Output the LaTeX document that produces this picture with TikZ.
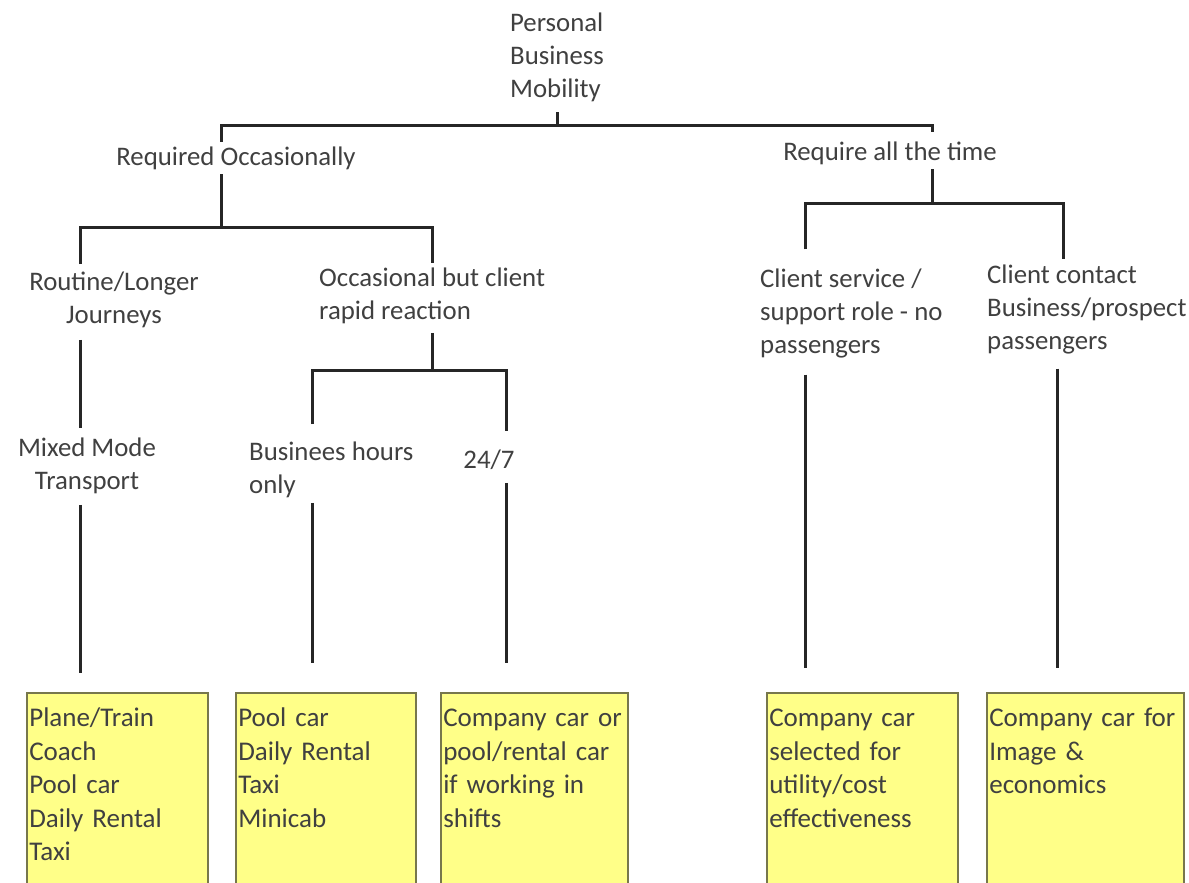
\documentclass[tikz,border=0pt]{standalone}
\usepackage{fontspec}
\setmainfont{Carlito}
\definecolor{boxfill}{HTML}{FFFF88}
\definecolor{boxline}{HTML}{77774C}
\definecolor{txt}{HTML}{404040}
\tikzset{
 lbl/.style={text=txt, font=\fontsize{26.8}{33}\selectfont, inner sep=0pt, outer ysep=5pt},
 choice/.style={draw=boxline, line width=1.6pt, fill=boxfill, anchor=north west, align=left,
   text=txt, font=\fontsize{27}{33.5}\selectfont, inner xsep=2.5pt, inner ysep=6pt,
   text height=28pt, text depth=190pt},
 link/.style={draw=black!85, line width=3pt}
}
\begin{document}
\begin{tikzpicture}[x=1pt,y=-1pt]
 \clip (0,0) rectangle (1189,883);
 \fill[white] (0,0) rectangle (1189,883);

 \node (PBM) [lbl, align=left] at (557,57) {Personal\\Business\\Mobility};
 \node (RO) [lbl] at (236,158) {Required Occasionally};
 \node (RA) [lbl] at (890,153) {Require all the time};
 \node (RL) [lbl, align=center] at (114,300) {Routine/Longer\\Journeys};
 \node (OC) [lbl, align=left, anchor=west] at (319,296) {Occasional but client\\rapid reaction};
 \node (MM) [lbl, align=center] at (87,466) {Mixed Mode\\Transport};
 \node (BH) [lbl, align=left, anchor=west] at (249,470) {Businees hours\\only};
 \node (TS) [lbl] at (489,460) {24/7};
 \node (CS) [lbl, align=left, anchor=west] at (760,313) {Client service /\\support role - no\\passengers};
 \node (CC) [lbl, align=left, anchor=west] at (987,309) {Client contact\\Business/prospect\\passengers};

 % outcome boxes
 \node (BA) [choice, text width=176pt] at (26,692) {Plane/Train\\Coach\\Pool car\\Daily Rental\\Taxi};
 \node (BB) [choice, text width=175pt] at (235,692) {Pool car\\Daily Rental\\Taxi\\Minicab};
 \node (BC) [choice, text width=182pt] at (440,692) {Company car or\\pool/rental car\\if working in\\shifts};
 \node (BD) [choice, text width=186pt] at (766,692) {Company car\\selected for\\utility/cost\\effectiveness};
 \node (BE) [choice, text width=192pt] at (986,692) {Company car for\\Image \&\\economics};

 % junctions and columns
 \coordinate (J1) at (557,125);
 \coordinate (J2) at (221,227);
 \coordinate (J3) at (432,370);
 \coordinate (J4) at (932,203);
 \coordinate (CA) at (80,0);
 \coordinate (CD) at (312,0);
 \coordinate (CE) at (506,0);
 \coordinate (CG) at (805,0);
 \coordinate (CH) at (1063,0);
 \coordinate (CI) at (1057,0);

 \path (PBM.south) edge [link, shorten <=6pt] (J1);
 \draw [link, shorten >=5pt] (RO.north -| J2) |- (J1) -| (RA.north -| J4);
 \path (RO.south -| J2) edge [link] (J2);
 \draw [link, shorten <=3pt] (RL.north -| CA) |- (J2) -| (OC.north -| J3);
 \path (RL.south -| CA) edge [link, shorten <=7pt, shorten >=5pt] (MM.north -| CA);
 \path (MM.south -| CA) edge [link, shorten <=6pt, shorten >=19pt] (BA.north -| CA);
 \path (OC.south -| J3) edge [link, shorten <=4pt] (J3);
 \draw [link, shorten <=13pt, shorten >=14pt] (BH.north -| CD) |- (J3) -| (TS.north -| CE);
 \path (BH.south -| CD) edge [link, shorten >=29pt] (BB.north -| CD);
 \path (TS.south -| CE) edge [link, shorten <=8pt, shorten >=29pt] (BC.north -| CE);
 \path (RA.south -| J4) edge [link] (J4);
 \draw [link, shorten <=14pt] (CS.north -| CG) |- (J4) -| (CC.north -| CH);
 \path (CS.south -| CG) edge [link, shorten <=12pt, shorten >=24pt] (BD.north -| CG);
 \path (CC.south -| CI) edge [link, shorten <=10pt, shorten >=24pt] (BE.north -| CI);
\end{tikzpicture}
\end{document}
